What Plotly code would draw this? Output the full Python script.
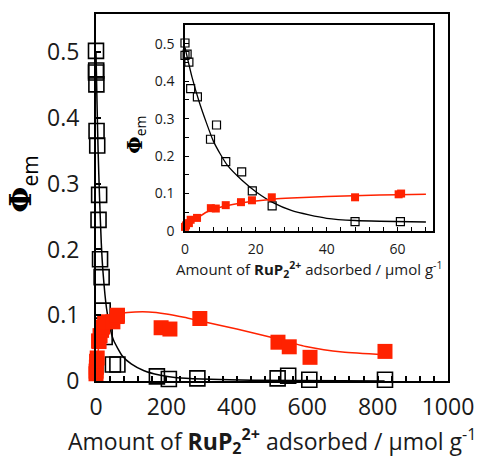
import plotly.graph_objects as go

# ---- data ----
# low-loading points (shown in both main plot and inset)
lo_x_black = [0, 0, 0.6, 1.1, 1.6, 3.5, 7.2, 8.9, 11.5, 16, 19, 24.6, 48, 60.8]
lo_y_black = [0.502, 0.469, 0.472, 0.451, 0.38, 0.358, 0.245, 0.283, 0.185, 0.158, 0.107, 0.067, 0.025, 0.025]
lo_x_red = [0, 0.3, 1.1, 1.6, 3.4, 7.3, 8.7, 11.5, 15.8, 18.9, 24.5, 48, 60.3, 61]
lo_y_red = [0.011, 0.015, 0.021, 0.03, 0.035, 0.061, 0.06, 0.069, 0.077, 0.082, 0.09, 0.09, 0.098, 0.1]
# high-loading points (main plot only)
hi_x_black = [173, 207, 288, 516, 546, 606, 821]
hi_y_black = [0.007, 0.003, 0.004, 0.004, 0.008, 0.002, 0.002]
hi_x_red = [185, 210, 295, 517, 549, 608, 821]
hi_y_red = [0.081, 0.079, 0.095, 0.059, 0.052, 0.036, 0.045]

# fitted curves
main_fit_black_x = [0, 3, 6, 10, 15, 20, 30, 40, 50, 75, 100, 135, 180, 230, 300, 450, 820]
main_fit_black_y = [0.5, 0.42, 0.35, 0.28, 0.21, 0.165, 0.11, 0.08, 0.062, 0.038, 0.026, 0.016, 0.009, 0.005, 0.003, 0.001, 0.0]
main_fit_red_x = [0, 5, 10, 25, 50, 90, 150, 200, 250, 300, 400, 500, 600, 700, 820]
main_fit_red_y = [0.0, 0.04, 0.06, 0.09, 0.1, 0.104, 0.105, 0.102, 0.097, 0.091, 0.079, 0.066, 0.052, 0.044, 0.040]
inset_fit_black_x = [0, 2, 4, 6, 8, 10, 12, 16, 20, 25, 30, 35, 40, 48, 55, 68]
inset_fit_black_y = [0.49, 0.41, 0.345, 0.29, 0.24, 0.205, 0.175, 0.136, 0.105, 0.075, 0.055, 0.043, 0.034, 0.028, 0.026, 0.024]
inset_fit_red_x = [0, 1, 2, 4, 6, 8, 12, 16, 20, 25, 30, 40, 50, 60, 68]
inset_fit_red_y = [0.005, 0.015, 0.025, 0.038, 0.05, 0.058, 0.068, 0.075, 0.08, 0.085, 0.088, 0.092, 0.095, 0.097, 0.098]

main_xticks = [0, 200, 400, 600, 800, 1000]
main_yticks = [0, 0.1, 0.2, 0.3, 0.4, 0.5]
inset_xticks = [0, 20, 40, 60]
inset_yticks = [0, 0.1, 0.2, 0.3, 0.4, 0.5]

RED = "#ff2200"
FONT = "Open Sans"

fig = go.Figure()

# main plot
fig.add_trace(go.Scatter(x=main_fit_black_x, y=main_fit_black_y, mode="lines",
                         line=dict(color="black", width=1.5, shape="spline", smoothing=0.6),
                         xaxis="x", yaxis="y", showlegend=False))
fig.add_trace(go.Scatter(x=main_fit_red_x, y=main_fit_red_y, mode="lines",
                         line=dict(color=RED, width=1.5, shape="spline", smoothing=0.6),
                         xaxis="x", yaxis="y", showlegend=False))
fig.add_trace(go.Scatter(x=lo_x_black + hi_x_black, y=lo_y_black + hi_y_black, mode="markers",
                         marker=dict(symbol="square-open", size=15, color="black", line=dict(width=1.6)),
                         cliponaxis=False, xaxis="x", yaxis="y", showlegend=False))
fig.add_trace(go.Scatter(x=lo_x_red + hi_x_red, y=lo_y_red + hi_y_red, mode="markers",
                         marker=dict(symbol="square", size=15, color=RED),
                         cliponaxis=False, xaxis="x", yaxis="y", showlegend=False))

# inset
fig.add_trace(go.Scatter(x=inset_fit_black_x, y=inset_fit_black_y, mode="lines",
                         line=dict(color="black", width=1.3, shape="spline", smoothing=0.6),
                         xaxis="x2", yaxis="y2", showlegend=False))
fig.add_trace(go.Scatter(x=inset_fit_red_x, y=inset_fit_red_y, mode="lines",
                         line=dict(color=RED, width=1.5, shape="spline", smoothing=0.6),
                         xaxis="x2", yaxis="y2", showlegend=False))
fig.add_trace(go.Scatter(x=lo_x_black, y=lo_y_black, mode="markers",
                         marker=dict(symbol="square-open", size=8, color="black", line=dict(width=1.2)),
                         cliponaxis=False, xaxis="x2", yaxis="y2", showlegend=False))
fig.add_trace(go.Scatter(x=lo_x_red, y=lo_y_red, mode="markers",
                         marker=dict(symbol="square", size=8, color=RED),
                         cliponaxis=False, xaxis="x2", yaxis="y2", showlegend=False))

ax_common = dict(showgrid=False, zeroline=False, showline=True, mirror=True,
                 linecolor="black", ticks="inside", tickcolor="black")

fig.update_layout(
    width=489, height=458,
    margin=dict(l=96, r=41, t=14, b=77),
    paper_bgcolor="white", plot_bgcolor="white",
    font=dict(family=FONT, color="#1a1a1a"),
    xaxis=dict(**ax_common, domain=[0, 1], range=[0, 1000], tickvals=main_xticks,
               ticktext=[str(v) for v in main_xticks], linewidth=2, ticklen=5, tickwidth=1.5,
               minor=dict(dtick=40, ticks="inside", ticklen=5, tickwidth=1.5, tickcolor="black"),
               tickfont=dict(size=23), ticklabelstandoff=4),
    yaxis=dict(**ax_common, domain=[0, 1], range=[0, 0.558], tickvals=main_yticks,
               ticktext=["0", "0.1", "0.2", "0.3", "0.4", "0.5"], linewidth=2, ticklen=5, tickwidth=1.5,
               tickfont=dict(size=23), ticklabelstandoff=10),
    xaxis2=dict(**ax_common, domain=[0.2528, 0.9574], anchor="y2", range=[0, 70],
                tickvals=inset_xticks, ticktext=[str(v) for v in inset_xticks],
                linewidth=1.5, ticklen=4, tickwidth=1.2,
                minor=dict(dtick=4, ticks="inside", ticklen=4, tickwidth=1.2, tickcolor="black"),
                tickfont=dict(size=14), ticklabelstandoff=4),
    yaxis2=dict(**ax_common, domain=[0.4087, 0.970], anchor="x2", range=[0, 0.55],
                tickvals=inset_yticks, ticktext=["0", "0.1", "0.2", "0.3", "0.4", "0.5"],
                linewidth=1.5, ticklen=4, tickwidth=1.2,
                minor=dict(dtick=0.05, ticks="inside", ticklen=4, tickwidth=1.2, tickcolor="black"),
                tickfont=dict(size=14), ticklabelstandoff=6),
    annotations=[
        dict(text="Amount of <b>RuP<sub>2</sub><sup>2+</sup></b> adsorbed / μmol g<sup>-1</sup>",
             xref="paper", yref="paper", x=0.5, y=0, xanchor="center", yanchor="middle",
             yshift=-60, showarrow=False, font=dict(size=23, color="#1a1a1a")),
        dict(text="<span style='font-family:DejaVu Serif'><b>Φ</b></span><sub>em</sub>",
             xref="paper", yref="paper", x=0, y=0.535, xanchor="center", yanchor="middle",
             xshift=-73, textangle=-90, showarrow=False, font=dict(size=30, color="black")),
        dict(text="Amount of <b>RuP<sub>2</sub><sup>2+</sup></b> adsorbed / μmol g<sup>-1</sup>",
             xref="paper", yref="paper", x=0.605, y=0.4087, xanchor="center", yanchor="middle",
             yshift=-38, showarrow=False, font=dict(size=15, color="#1a1a1a")),
        dict(text="<span style='font-family:DejaVu Serif'><b>Φ</b></span><sub>em</sub>",
             xref="paper", yref="paper", x=0.2528, y=0.671, xanchor="center", yanchor="middle",
             xshift=-48, textangle=-90, showarrow=False, font=dict(size=20, color="black")),
    ],
)

fig.write_html("out.html")
